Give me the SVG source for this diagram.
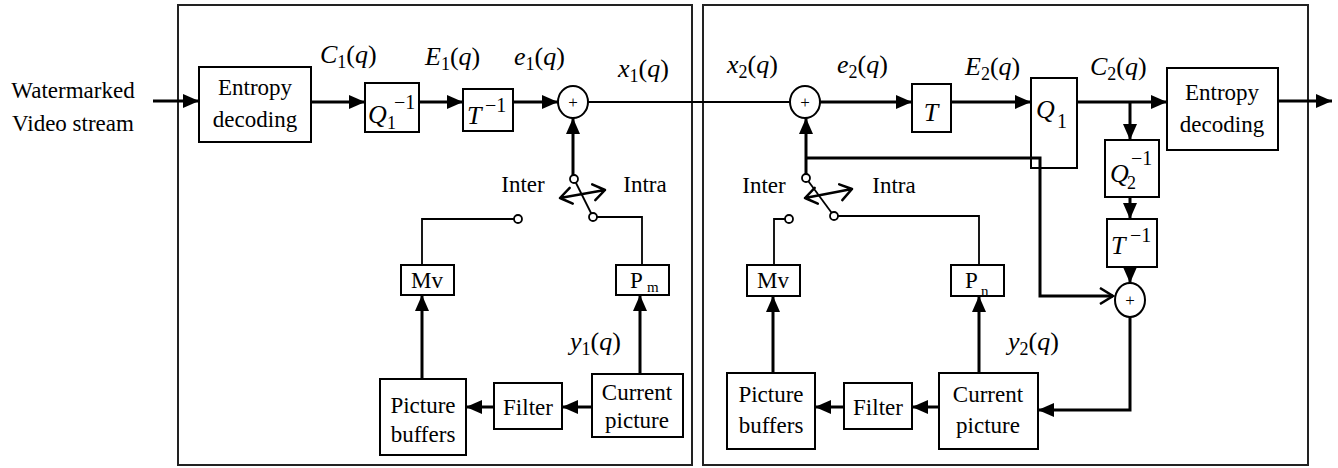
<svg xmlns="http://www.w3.org/2000/svg" width="1338" height="468" viewBox="0 0 1338 468">
<defs>
  <marker id="ah" markerUnits="userSpaceOnUse" markerWidth="16" markerHeight="14" refX="16" refY="7" orient="auto">
    <path d="M0,0 L16,7 L0,14 z" fill="#000"/>
  </marker>
  <marker id="chev" markerUnits="userSpaceOnUse" markerWidth="16" markerHeight="18" refX="14" refY="9" orient="auto">
    <path d="M1,1 L14,9 L1,17" fill="none" stroke="#000" stroke-width="2.5"/>
  </marker>
</defs>
<style>
  .panel{fill:none;stroke:#222;stroke-width:2}
  .box{fill:#fff;stroke:#000;stroke-width:2}
  text{font-family:'Liberation Serif','DejaVu Serif',serif;fill:#000}
  .t{font-size:23px;text-anchor:middle}
  .m{font-size:26px}
  .i{font-style:italic}
  .w{fill:none;stroke:#000;stroke-width:3}
  .thin{fill:none;stroke:#000;stroke-width:1.8}
  .arr{marker-end:url(#ah)}
  .sum{fill:#fff;stroke:#000;stroke-width:2}
  .plus{font-size:17px;text-anchor:middle}
  .node{fill:#fff;stroke:#000;stroke-width:1.8}
  .sw{fill:none;stroke:#000;stroke-width:2.5;stroke-linecap:round;stroke-linejoin:round}
</style>

<!-- decoder / re-encoder panels -->
<g id="panels">
  <rect class="panel" x="178" y="5" width="514" height="460"/>
  <rect class="panel" x="703" y="5" width="605" height="460"/>
</g>

<!-- input label -->
<g id="input">
  <text class="t" x="73" y="98">Watermarked</text>
  <text class="t" x="73" y="131">Video stream</text>
</g>

<!-- left panel: decoder -->
<g id="entropy1">
  <rect class="box" x="199" y="67" width="112" height="75"/>
  <text class="t" x="255" y="95">Entropy</text>
  <text class="t" x="255" y="127">decoding</text>
</g>
<g id="iq1">
  <rect class="box" x="365" y="83" width="54" height="49"/>
  <text class="m"><tspan class="i" x="368" y="123">Q</tspan><tspan x="387" y="129" font-size="18">1</tspan><tspan x="394" y="109" font-size="20">−1</tspan></text>
</g>
<g id="it1">
  <rect class="box" x="463" y="89" width="50" height="42"/>
  <text class="m"><tspan class="i" x="467" y="124">T</tspan><tspan x="485" y="112" font-size="20">−1</tspan></text>
</g>
<g id="sum1">
  <ellipse class="sum" cx="573" cy="102" rx="15" ry="16"/>
  <text class="plus" x="573" y="108">+</text>
</g>
<g id="mv1">
  <rect class="box" x="401" y="265" width="53" height="30"/>
  <text class="t" x="427" y="288">Mv</text>
</g>
<g id="pm">
  <rect class="box" x="616" y="265" width="53" height="30"/>
  <text class="t" style="text-anchor:start"><tspan x="630" y="288">P</tspan><tspan x="647" y="292" font-size="15">m</tspan></text>
</g>
<g id="buffers1">
  <rect class="box" x="380" y="379" width="86" height="76"/>
  <text class="t" x="423" y="413">Picture</text>
  <text class="t" x="423" y="442">buffers</text>
</g>
<g id="filter1">
  <rect class="box" x="494" y="383" width="68" height="46"/>
  <text class="t" x="528" y="415">Filter</text>
</g>
<g id="current1">
  <rect class="box" x="592" y="374" width="91" height="63"/>
  <text class="t" x="637" y="400">Current</text>
  <text class="t" x="637" y="428">picture</text>
</g>
<g id="switch1">
  <line class="thin" x1="574" y1="179" x2="593" y2="217"/>
  <path class="sw" d="M605,190 L560,198 M569.7,187.9 L560,198 L572.8,203.6 M592.2,184.4 L605,190 L595.3,200.1"/>
  <circle class="node" cx="574" cy="179" r="4"/>
  <circle class="node" cx="593" cy="217" r="4"/>
  <circle class="node" cx="518" cy="219" r="4"/>
  <text class="t" x="523" y="192">Inter</text>
  <text class="t" x="645" y="192">Intra</text>
</g>

<!-- right panel: re-encoder -->
<g id="sum2">
  <ellipse class="sum" cx="805" cy="102" rx="15" ry="16"/>
  <text class="plus" x="805" y="108">+</text>
</g>
<g id="t2">
  <rect class="box" x="912" y="84" width="39" height="48"/>
  <text class="m i" x="931" y="121" text-anchor="middle">T</text>
</g>
<g id="q1">
  <rect class="box" x="1031" y="78" width="46" height="90"/>
  <text class="m"><tspan class="i" x="1036" y="118">Q</tspan><tspan x="1057" y="128" font-size="20">1</tspan></text>
</g>
<g id="entropy2">
  <rect class="box" x="1167" y="68" width="111" height="82"/>
  <text class="t" x="1222" y="100">Entropy</text>
  <text class="t" x="1222" y="132">decoding</text>
</g>
<g id="iq2">
  <rect class="box" x="1105" y="140" width="54" height="57"/>
  <text class="m"><tspan class="i" x="1110" y="182">Q</tspan><tspan x="1127" y="189" font-size="18">2</tspan><tspan x="1131" y="165" font-size="20">−1</tspan></text>
</g>
<g id="it2">
  <rect class="box" x="1107" y="219" width="50" height="48"/>
  <text class="m"><tspan class="i" x="1111" y="254">T</tspan><tspan x="1130" y="242" font-size="20">−1</tspan></text>
</g>
<g id="sum3">
  <ellipse class="sum" cx="1130" cy="300" rx="15" ry="17"/>
  <text class="plus" x="1130" y="306">+</text>
</g>
<g id="mv2">
  <rect class="box" x="747" y="265" width="53" height="31"/>
  <text class="t" x="773" y="288">Mv</text>
</g>
<g id="pn">
  <rect class="box" x="951" y="265" width="53" height="31"/>
  <text class="t" style="text-anchor:start"><tspan x="965" y="288">P</tspan><tspan x="981" y="296" font-size="15">n</tspan></text>
</g>
<g id="buffers2">
  <rect class="box" x="727" y="373" width="88" height="76"/>
  <text class="t" x="771" y="402">Picture</text>
  <text class="t" x="771" y="433">buffers</text>
</g>
<g id="filter2">
  <rect class="box" x="844" y="383" width="68" height="46"/>
  <text class="t" x="878" y="415">Filter</text>
</g>
<g id="current2">
  <rect class="box" x="939" y="373" width="99" height="76"/>
  <text class="t" x="988" y="402">Current</text>
  <text class="t" x="988" y="433">picture</text>
</g>
<g id="switch2">
  <line class="thin" x1="806" y1="178" x2="834" y2="216"/>
  <path class="sw" d="M852,189 L805,198 M814.7,187.9 L805,198 L817.8,203.7 M839.2,184.3 L852,189 L842.3,200.1"/>
  <circle class="node" cx="806" cy="178" r="4"/>
  <circle class="node" cx="834" cy="216" r="4"/>
  <circle class="node" cx="789" cy="219" r="4"/>
  <text class="t" x="764" y="193">Inter</text>
  <text class="t" x="894" y="193">Intra</text>
</g>

<!-- signal labels -->
<g id="labels">
  <text class="m" x="320" y="63"><tspan class="i">C</tspan><tspan font-size="18" dy="5">1</tspan><tspan dy="-5">(</tspan><tspan class="i">q</tspan>)</text>
  <text class="m" x="425" y="65"><tspan class="i">E</tspan><tspan font-size="18" dy="5">1</tspan><tspan dy="-5">(</tspan><tspan class="i">q</tspan>)</text>
  <text class="m" x="514" y="65"><tspan class="i">e</tspan><tspan font-size="18" dy="5">1</tspan><tspan dy="-5">(</tspan><tspan class="i">q</tspan>)</text>
  <text class="m" x="618" y="77"><tspan class="i">x</tspan><tspan font-size="18" dy="5">1</tspan><tspan dy="-5">(</tspan><tspan class="i">q</tspan>)</text>
  <text class="m" x="727" y="73"><tspan class="i">x</tspan><tspan font-size="18" dy="5">2</tspan><tspan dy="-5">(</tspan><tspan class="i">q</tspan>)</text>
  <text class="m" x="837" y="73"><tspan class="i">e</tspan><tspan font-size="18" dy="5">2</tspan><tspan dy="-5">(</tspan><tspan class="i">q</tspan>)</text>
  <text class="m" x="965" y="75"><tspan class="i">E</tspan><tspan font-size="18" dy="5">2</tspan><tspan dy="-5">(</tspan><tspan class="i">q</tspan>)</text>
  <text class="m" x="1090" y="75"><tspan class="i">C</tspan><tspan font-size="18" dy="5">2</tspan><tspan dy="-5">(</tspan><tspan class="i">q</tspan>)</text>
  <text class="m" x="570" y="350"><tspan class="i">y</tspan><tspan font-size="18" dy="5">1</tspan><tspan dy="-5">(</tspan><tspan class="i">q</tspan>)</text>
  <text class="m" x="1008" y="350"><tspan class="i">y</tspan><tspan font-size="18" dy="5">2</tspan><tspan dy="-5">(</tspan><tspan class="i">q</tspan>)</text>
</g>

<!-- connectors -->
<g id="connectors">
  <path class="w arr" d="M153,101 L199,101"/>
  <path class="w arr" d="M311,102 L365,102"/>
  <path class="w arr" d="M419,102 L463,102"/>
  <path class="w arr" d="M513,102 L558,102"/>
  <path class="thin" d="M588,102 L790,102"/>
  <path class="w arr" d="M820,102 L912,102"/>
  <path class="w arr" d="M951,102 L1031,102"/>
  <path class="w arr" d="M1077,102 L1167,102"/>
  <path class="w arr" d="M1278,101 L1332,101"/>
  <path class="w arr" d="M1130,102 L1130,140"/>
  <path class="w arr" d="M1130,197 L1130,219"/>
  <path class="w arr" d="M1130,267 L1130,283"/>
  <path class="w arr" d="M1130,317 L1130,410 L1038,410"/>
  <path class="w" d="M806,158 L1040,158 L1040,296 L1113,296" marker-end="url(#chev)"/>
  <path class="w arr" d="M806,174 L806,118"/>
  <path class="w arr" d="M573,175 L573,118"/>
  <path class="thin" d="M422,265 L422,219 L514,219"/>
  <path class="thin" d="M597,217 L642,217 L642,265"/>
  <path class="thin" d="M774,265 L774,219 L785,219"/>
  <path class="thin" d="M838,216 L979,216 L979,265"/>
  <path class="w arr" d="M422,379 L422,295"/>
  <path class="w arr" d="M640,374 L640,295"/>
  <path class="w arr" d="M494,407 L466,407"/>
  <path class="w arr" d="M592,407 L562,407"/>
  <path class="w arr" d="M773,373 L773,296"/>
  <path class="w arr" d="M979,373 L979,296"/>
  <path class="w arr" d="M844,407 L815,407"/>
  <path class="w arr" d="M939,407 L912,407"/>
</g>
</svg>
